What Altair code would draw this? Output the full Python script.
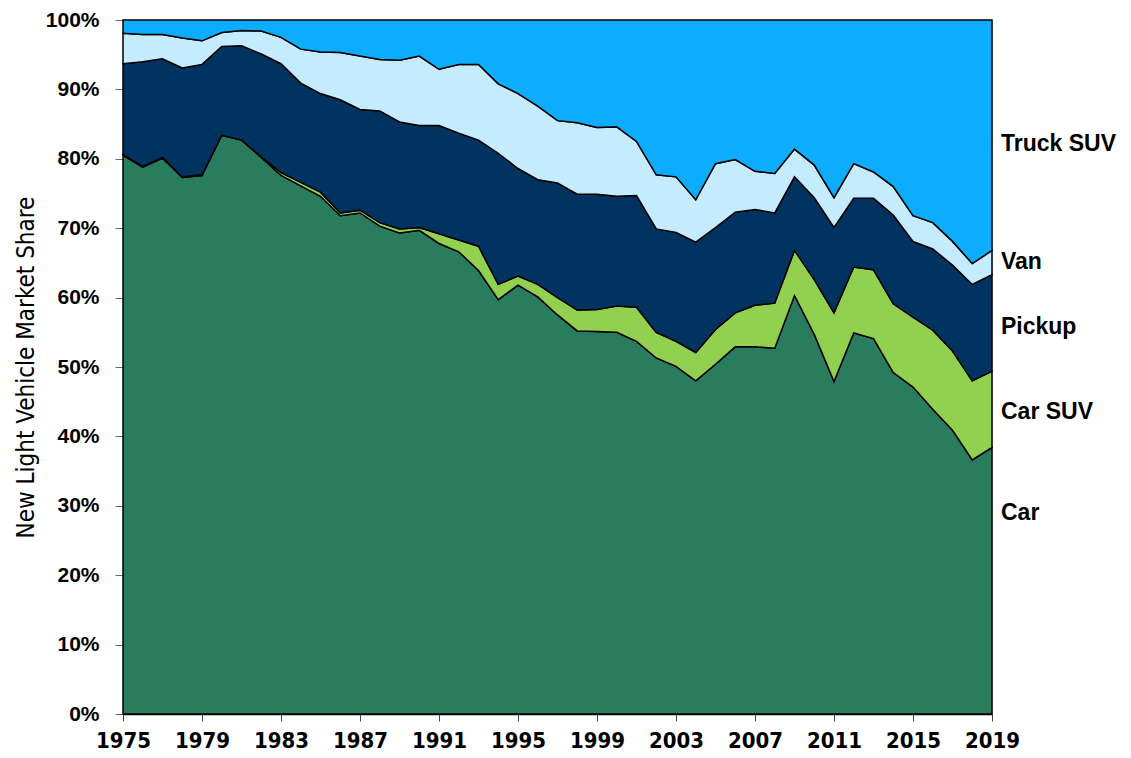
import altair as alt
import pandas as pd

years = list(range(1975, 2020))

car = [80.5, 78.8, 80.1, 77.3, 77.6, 83.4, 82.7, 80.2, 77.6, 76.1,
       74.6, 71.8, 72.2, 70.3, 69.3, 69.7, 67.8, 66.6, 63.9, 59.7,
       61.8, 60.1, 57.5, 55.2, 55.1, 55.0, 53.7, 51.3, 50.1, 48.0,
       50.4, 52.9, 52.9, 52.7, 60.3, 54.7, 47.9, 54.9, 54.1, 49.2,
       47.1, 43.9, 40.9, 36.6, 38.4]
car_suv = [0.1, 0.1, 0.1, 0.1, 0.1, 0.0, 0.0, 0.1, 0.4, 0.5,
           0.6, 0.4, 0.4, 0.5, 0.6, 0.4, 1.4, 1.7, 3.5, 2.2,
           1.3, 1.8, 2.5, 3.0, 3.2, 3.8, 4.9, 3.7, 3.6, 4.1,
           5.0, 4.9, 6.0, 6.5, 6.5, 7.9, 9.9, 9.5, 9.9, 9.9,
           10.1, 11.4, 11.4, 11.4, 11.0]
pickup = [13.1, 15.1, 14.2, 15.7, 15.9, 12.8, 13.6, 14.8, 15.7, 14.3,
          14.2, 16.3, 14.5, 16.1, 15.4, 14.7, 15.6, 15.4, 15.3, 18.9,
          15.5, 15.1, 16.5, 16.7, 16.6, 15.8, 16.1, 14.9, 15.7, 15.9,
          14.7, 14.5, 13.8, 13.0, 10.6, 11.8, 12.3, 9.9, 10.3, 12.8,
          10.9, 11.7, 12.4, 13.9, 13.9]
van = [4.4, 3.9, 3.5, 4.3, 3.4, 2.0, 2.2, 3.3, 3.8, 4.9,
       6.0, 6.8, 7.7, 7.4, 8.9, 10.0, 8.1, 9.9, 10.9, 10.0,
       10.8, 10.6, 9.0, 10.3, 9.6, 10.0, 7.8, 7.8, 8.0, 6.1,
       9.2, 7.6, 5.5, 5.7, 4.0, 4.7, 4.3, 5.0, 3.8, 4.1,
       3.7, 3.8, 3.4, 3.0, 3.5]
truck_suv = [1.9, 2.1, 2.1, 2.6, 3.0, 1.8, 1.5, 1.6, 2.5, 4.2,
             4.6, 4.7, 5.2, 5.7, 5.8, 5.2, 7.1, 6.4, 6.4, 9.2,
             10.6, 12.4, 14.5, 14.8, 15.5, 15.4, 17.5, 22.3, 22.6, 25.9,
             20.7, 20.1, 21.8, 22.1, 18.6, 20.9, 25.6, 20.7, 21.9, 24.0,
             28.2, 29.2, 31.9, 35.1, 33.2]

types = ["Car", "Car SUV", "Pickup", "Van", "Truck SUV"]
colors = ["#2A7C5E", "#92D050", "#003360", "#C5EBFF", "#0CACFF"]
x_ticks = list(range(1975, 2020, 4))
y_ticks = [i / 10 for i in range(11)]

label_text = ["Truck SUV", "Van", "Pickup", "Car SUV", "Car"]
label_y = [0.822, 0.652, 0.557, 0.435, 0.29]

series = [car, car_suv, pickup, van, truck_suv]
rows = []
for k, (t, vals) in enumerate(zip(types, series)):
    for yr, v in zip(years, vals):
        rows.append({"year": yr, "type": t, "share": v, "ord": k})
df = pd.DataFrame(rows)

labels_df = pd.DataFrame({"year": [2019] * len(label_text), "label": label_text, "pos": label_y})

x_enc = alt.X("year:Q",
              scale=alt.Scale(domain=[1975, 2019], nice=False, zero=False),
              axis=alt.Axis(values=x_ticks, format="d", title=None,
                            labelFont="Liberation Sans Narrow, DejaVu Sans Condensed",
                            labelFontWeight="bold",
                            labelFontSize=22, labelColor="black", labelPadding=9,
                            tickColor="#444", tickSize=7, domainColor="black",
                            domainWidth=1.5, grid=False, labelFlush=False))

areas = alt.Chart(df).mark_area(stroke="black", strokeWidth=1.5).encode(
    x=x_enc,
    y=alt.Y("share:Q", stack="normalize",
            scale=alt.Scale(domain=[0, 1], nice=False),
            axis=alt.Axis(values=y_ticks, format=".0%",
                          title="New Light Vehicle Market Share",
                          titleFont="Liberation Sans Narrow, DejaVu Sans Condensed",
                          titleFontSize=24,
                          titleFontWeight="normal", titleColor="black", titlePadding=7,
                          labelFont="Liberation Sans", labelFontWeight="bold",
                          labelFontSize=21, labelColor="black", labelPadding=16,
                          labelBaseline="middle",
                          tickColor="#666", tickSize=8, domainColor="#777",
                          grid=False)),
    color=alt.Color("type:N", scale=alt.Scale(domain=types, range=colors), legend=None),
    order=alt.Order("ord:Q"),
)

labels = alt.Chart(labels_df).mark_text(
    align="left", baseline="middle", dx=9, font="Liberation Sans",
    fontWeight="bold", fontSize=23, color="black"
).encode(
    x=alt.X("year:Q"),
    y=alt.Y("pos:Q"),
    text="label:N",
)

chart = alt.layer(areas, labels).properties(
    width=869, height=694,
    autosize=alt.AutoSizeParams(type="none"),
    padding={"left": 115, "top": 12, "right": 130, "bottom": 50},
).configure_view(stroke="#333", strokeWidth=1.2).configure(background="white")

chart.save("out.html", embed_options={"renderer": "svg", "actions": False})
